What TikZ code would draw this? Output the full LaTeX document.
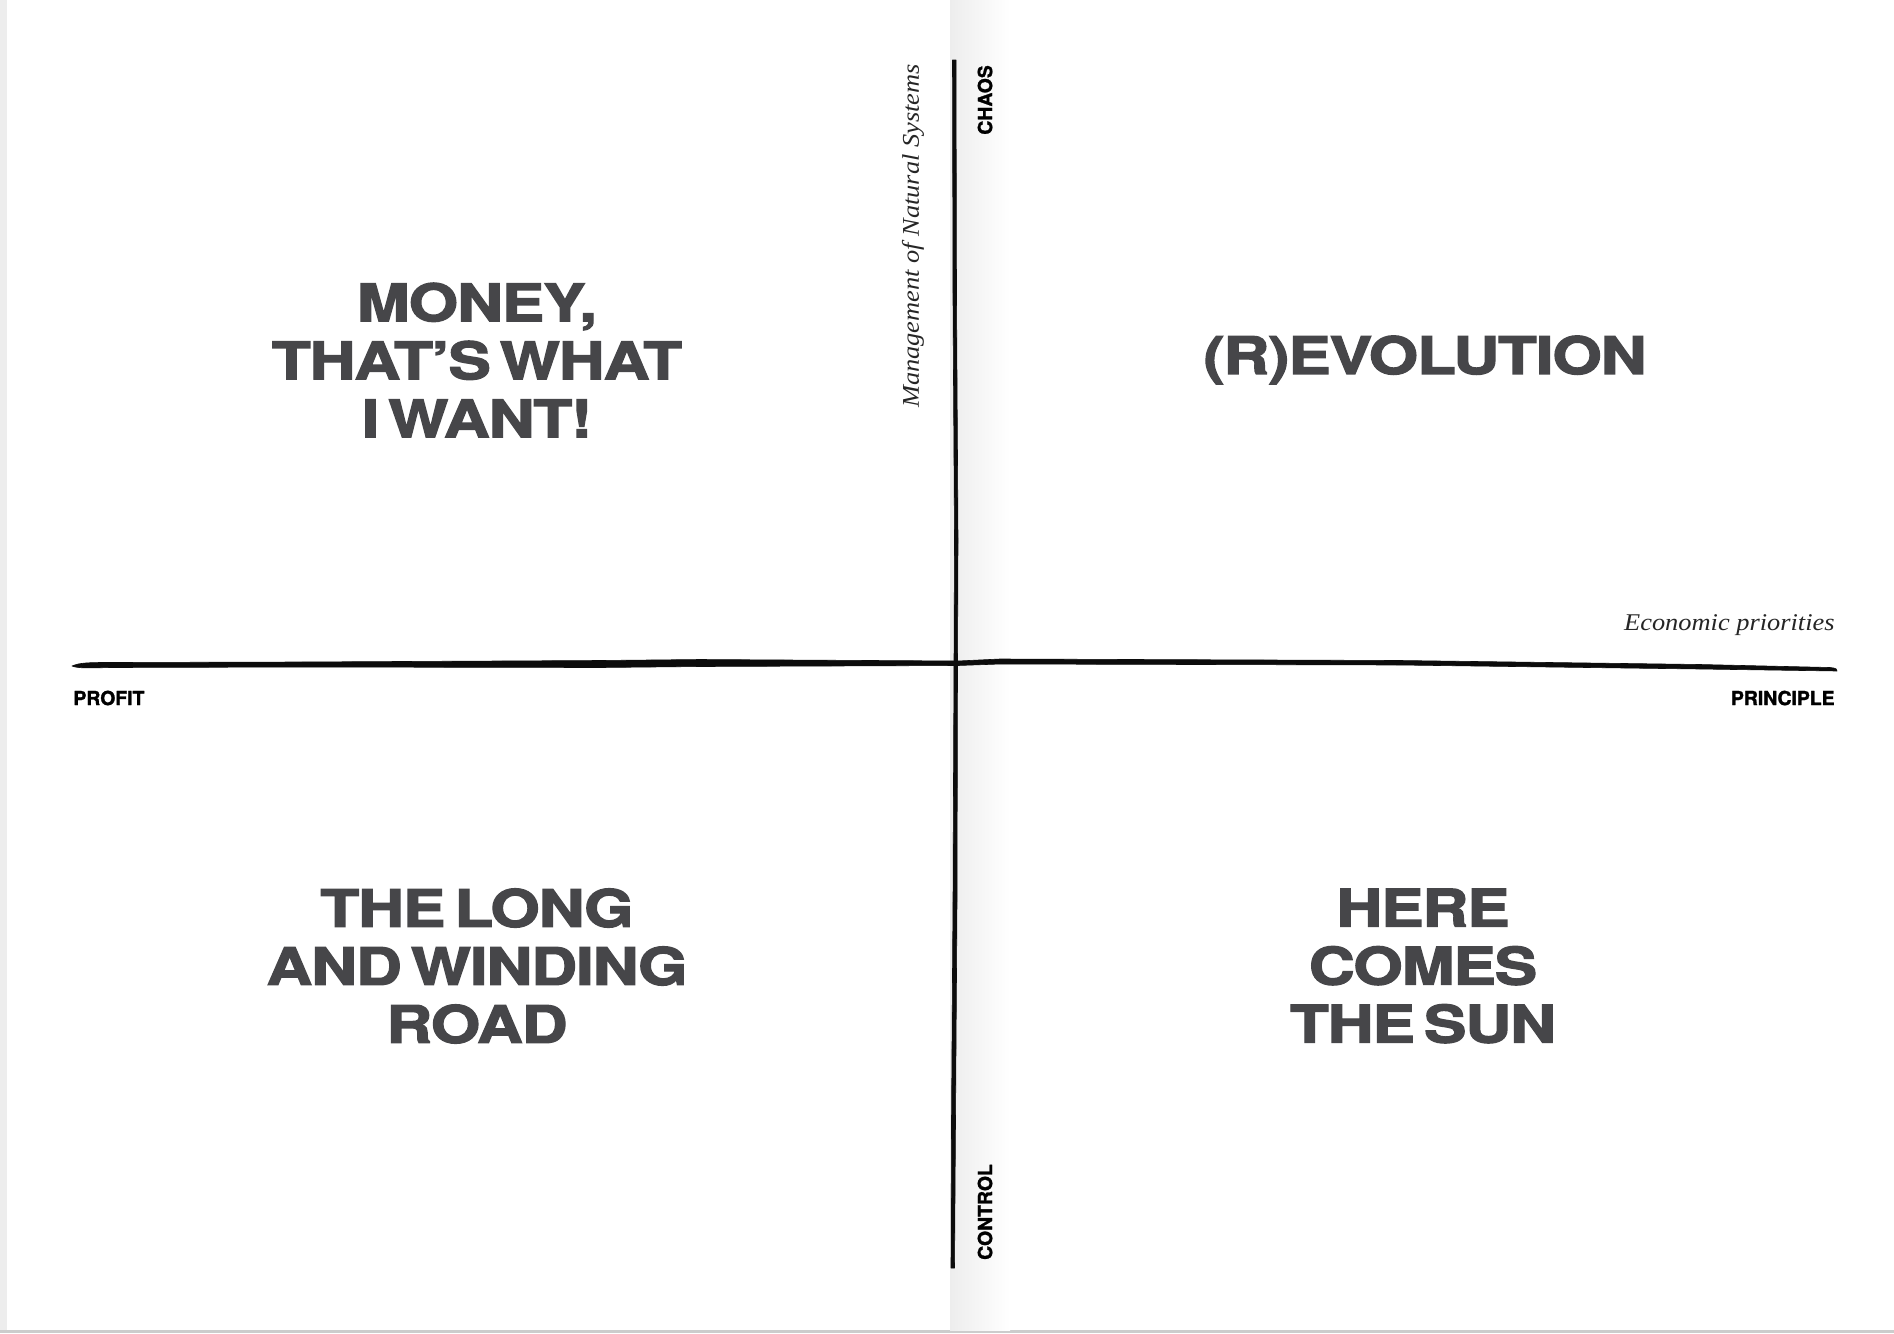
\documentclass[tikz,border=0pt]{standalone}
\usepackage{fontspec}
\newfontfamily\titlefont{texgyreheros-bold.otf}[FakeStretch=1.23,FakeBold=2.6,LetterSpace=-2,WordSpace=0.55]
\newfontfamily\labelfont{texgyreheros-bold.otf}[FakeBold=1.4]
\newfontfamily\serifit{Liberation Serif}[UprightFont=* Italic,FakeStretch=1.1]
\definecolor{titlegray}{RGB}{70,70,73}
\definecolor{inkblack}{RGB}{12,12,12}
\tikzset{
  quadtitle/.style={inner sep=0pt, align=center, text=titlegray,
    font={\titlefont\fontsize{25.8}{29}\selectfont}},
  axislabel/.style={inner sep=0pt, text=black, font={\labelfont\fontsize{9.7}{11}\selectfont}},
  axisname/.style={inner sep=0pt, text=black!85, font={\serifit\fontsize{12}{14}\selectfont}},
  inkline/.style={fill=inkblack, draw=inkblack, line width=0.3pt, line join=round}
}
\begin{document}
\begin{tikzpicture}[x=0.5pt,y=-0.5pt]
\useasboundingbox (0,0) rectangle (1894,1333);
\fill[white] (0,0) rectangle (1894,1333);
% page edges
\fill[black!7] (0,0) rectangle (7,1333);
\fill[black!20] (0,1330) rectangle (1894,1333);
% gutter shading
\shade[left color=black!7, right color=white] (950,0) rectangle (1010,1330);
% vertical axis
\coordinate (vtop) at (954,60);
\coordinate (vbot) at (952,1268);
\fill[inkline] (952.5,60) -- (956,60) -- (956.5,300) -- (958,540) -- (957.5,662) -- (957,900) -- (955.5,1120) -- (954.5,1268) -- (951,1268) -- (951.5,1120) -- (953,900) -- (954,662) -- (954.5,540) -- (953,300) -- cycle;
% horizontal axis
\coordinate (hleft) at (72,666);
\coordinate (hright) at (1837,670);
\fill[inkline] (72,666) .. controls (80,662.5) and (90,662.5) .. (110,662.5) -- (300,662) -- (600,660.5) -- (700,659.5) -- (958,661) -- (1000,659) -- (1400,660.5) -- (1700,664.5) -- (1830,667.5) .. controls (1836,668) and (1838,669.5) .. (1837,671) -- (1700,669) -- (1400,665) -- (1000,664) -- (958,665.5) -- (700,666.5) -- (600,667.5) -- (300,667) -- (110,667.5) .. controls (90,668) and (78,668.5) .. cycle;
% axis labels
\node[axislabel, rotate=90] (chaos) at (985,100) {CHAOS};
\node[axislabel, rotate=90] (control) at (985,1212) {CONTROL};
\node[axislabel, anchor=west] (profit) at (73,698) {PROFIT};
\node[axislabel, anchor=east] (principle) at (1835,698) {PRINCIPLE};
\node[axisname, anchor=base east] (econ) at (1835,630) {Economic priorities};
\node[axisname, rotate=90] (mgmt) at (913,236) {Management of Natural Systems};
% quadrant titles
\node[quadtitle] (money) at (477,360) {MONEY,\\THAT’S WHAT\\I WANT!};
\node[quadtitle] (revo) at (1425,360) {(R)EVOLUTION};
\node[quadtitle] (road) at (477,966) {THE LONG\\AND WINDING\\ROAD};
\node[quadtitle] (sun) at (1423,966) {HERE\\COMES\\THE SUN};
\end{tikzpicture}
\end{document}
